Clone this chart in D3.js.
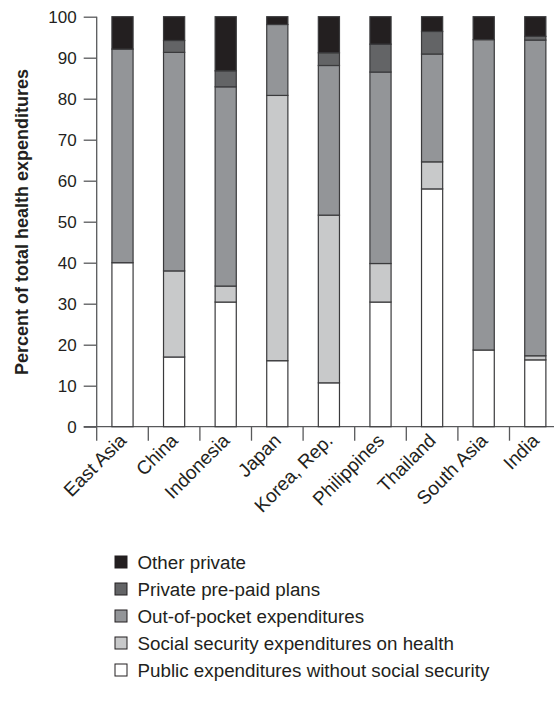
<!DOCTYPE html>
<html>
<head>
<meta charset="utf-8">
<script src="https://cdn.jsdelivr.net/npm/d3@7"></script>
<style>
  html, body { margin: 0; padding: 0; background: #fff; }
  svg { display: block; }
  text { font-family: "Liberation Sans", Arial, sans-serif; fill: #231f20; }
</style>
</head>
<body>
<svg id="chart" width="554" height="704"></svg>
<script>
const categories = ["East Asia", "China", "Indonesia", "Japan", "Korea, Rep.", "Philippines", "Thailand", "South Asia", "India"];
const seriesNames = ["Public expenditures without social security", "Social security expenditures on health", "Out-of-pocket expenditures", "Private pre-paid plans", "Other private"];
const publicExp   = [40.0, 17.0, 30.4, 16.1, 10.7, 30.4, 58.0, 18.7, 16.3];
const socialSec   = [0.0, 21.0, 3.9, 64.7, 40.9, 9.4, 6.6, 0.0, 1.0];
const outOfPocket = [52.1, 53.3, 48.6, 17.3, 36.5, 46.7, 26.3, 75.7, 77.0];
const prepaid     = [0.0, 2.9, 3.9, 0.0, 3.1, 6.8, 5.5, 0.0, 0.9];
const otherPriv   = [7.9, 5.8, 13.2, 1.9, 8.8, 6.7, 3.6, 5.6, 4.8];
const yTicks = [0, 10, 20, 30, 40, 50, 60, 70, 80, 90, 100];
const colors = ["#ffffff", "#c8c9ca", "#939598", "#636466", "#231f20"];

const seriesValues = [publicExp, socialSec, outOfPocket, prepaid, otherPriv];
const rows = categories.map((c, i) => {
  const r = { cat: c };
  seriesNames.forEach((s, k) => r[s] = seriesValues[k][i]);
  return r;
});
const stacked = d3.stack().keys(seriesNames)(rows);

const svg = d3.select("#chart");
const mLeft = 96.7, mTop = 16.7, mBottom = 426.7;
const bandW = 51.6;
const x = d3.scaleBand().domain(categories).range([mLeft, mLeft + bandW * categories.length]).paddingInner(0.59).paddingOuter(0.295);
const y = d3.scaleLinear().domain([0, 100]).range([mBottom, mTop]);

// Y axis
const yAxis = svg.append("g").attr("transform", `translate(${mLeft},0)`)
  .call(d3.axisLeft(y).tickValues(yTicks).tickSize(13).tickPadding(7));
yAxis.selectAll("text").style("font-size", "17px").attr("fill", "#231f20");
yAxis.selectAll("line, path").attr("stroke", "#58595b").attr("stroke-width", 1.3);
yAxis.select("path").attr("d", `M0,${mBottom}V${mTop}`);

// X axis line
svg.append("line").attr("x1", mLeft - 13).attr("x2", 554).attr("y1", mBottom).attr("y2", mBottom)
  .attr("stroke", "#58595b").attr("stroke-width", 1.3);
// X ticks at band boundaries
const boundaries = categories.map((c, i) => mLeft + bandW * i);
svg.append("g").selectAll("line").data(boundaries).join("line")
  .attr("x1", d => d).attr("x2", d => d).attr("y1", mBottom).attr("y2", mBottom + 14)
  .attr("stroke", "#58595b").attr("stroke-width", 1.3);

// bars
svg.append("g").selectAll("g").data(stacked).join("g")
  .attr("fill", (d, i) => colors[i])
  .selectAll("rect").data(d => d.filter(p => p[1] - p[0] > 0)).join("rect")
  .attr("x", d => x(d.data.cat))
  .attr("width", x.bandwidth())
  .attr("y", d => y(d[1]))
  .attr("height", d => y(d[0]) - y(d[1]))
  .attr("stroke", "#3a3a3c").attr("stroke-width", 1.2);

// X labels
svg.append("g").selectAll("text").data(categories).join("text")
  .attr("transform", d => `translate(${x(d) + x.bandwidth() / 2 + 5},${mBottom + 15}) rotate(-45)`)
  .attr("text-anchor", "end")
  .style("font-size", "19px")
  .text(d => d);

// Y title
svg.append("text")
  .attr("transform", `translate(28,222) rotate(-90)`)
  .attr("text-anchor", "middle")
  .style("font-size", "18px").style("font-weight", "bold")
  .text("Percent of total health expenditures");

// Legend
const legendOrder = [4, 3, 2, 1, 0];
const lg = svg.append("g").selectAll("g").data(legendOrder).join("g")
  .attr("transform", (d, i) => `translate(115,${556 + i * 27})`);
lg.append("rect").attr("width", 12).attr("height", 12)
  .attr("fill", d => colors[d]).attr("stroke", "#231f20").attr("stroke-width", 1);
lg.append("text").attr("x", 22.5).attr("y", 13).style("font-size", "18.8px")
  .text(d => d === 4 ? "Other private" : d === 3 ? "Private pre-paid plans" : seriesNames[d]);
</script>
</body>
</html>
